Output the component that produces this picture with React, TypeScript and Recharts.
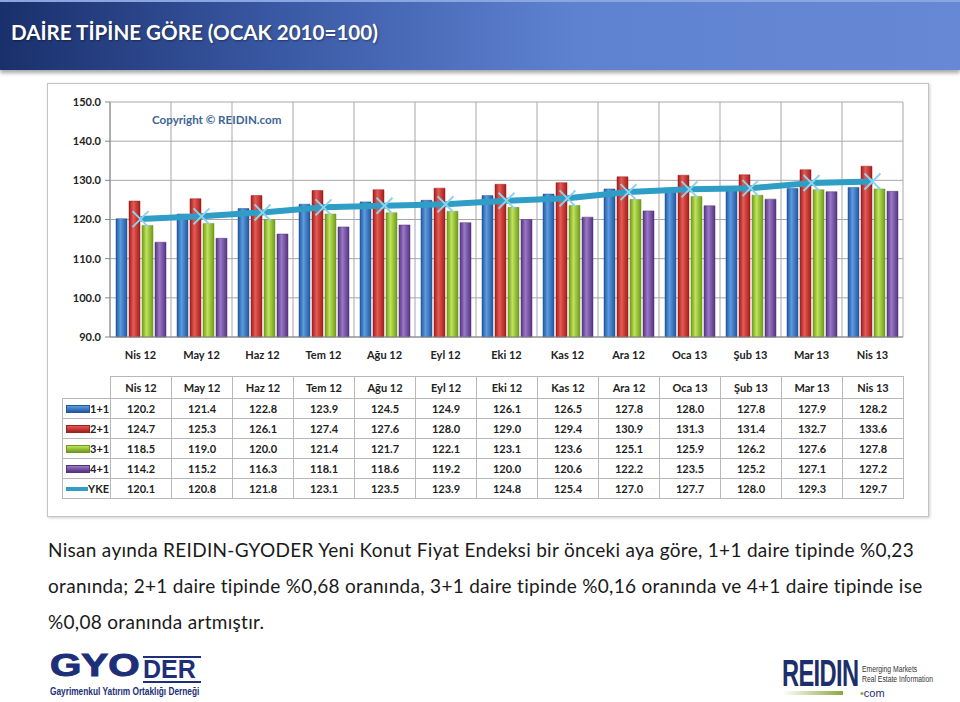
import React from 'react';
import { Bar, CartesianGrid, ComposedChart, Line, XAxis, YAxis } from 'recharts';

const months = ['Nis 12', 'May 12', 'Haz 12', 'Tem 12', 'Ağu 12', 'Eyl 12', 'Eki 12', 'Kas 12', 'Ara 12', 'Oca 13', 'Şub 13', 'Mar 13', 'Nis 13'];
const s11 = [120.2, 121.4, 122.8, 123.9, 124.5, 124.9, 126.1, 126.5, 127.8, 128.0, 127.8, 127.9, 128.2];
const s21 = [124.7, 125.3, 126.1, 127.4, 127.6, 128.0, 129.0, 129.4, 130.9, 131.3, 131.4, 132.7, 133.6];
const s31 = [118.5, 119.0, 120.0, 121.4, 121.7, 122.1, 123.1, 123.6, 125.1, 125.9, 126.2, 127.6, 127.8];
const s41 = [114.2, 115.2, 116.3, 118.1, 118.6, 119.2, 120.0, 120.6, 122.2, 123.5, 125.2, 127.1, 127.2];
const yke = [120.1, 120.8, 121.8, 123.1, 123.5, 123.9, 124.8, 125.4, 127.0, 127.7, 128.0, 129.3, 129.7];
const yTicks = [90, 100, 110, 120, 130, 140, 150];

const series = [
  { key: 's11', name: '1+1', values: s11, dark: '#23579e', light: '#5b9be0' },
  { key: 's21', name: '2+1', values: s21, dark: '#a01e1e', light: '#e65a52' },
  { key: 's31', name: '3+1', values: s31, dark: '#6f9a1c', light: '#bfe35a' },
  { key: 's41', name: '4+1', values: s41, dark: '#54347e', light: '#9a78c8' },
];
const lineColor = '#2e9ec6';

const data = months.map((m, i) => ({
  month: m,
  s11: s11[i],
  s21: s21[i],
  s31: s31[i],
  s41: s41[i],
  yke: yke[i],
}));

const font = 'Lato, "Open Sans", sans-serif';

function XDot(props: any) {
  const { cx, cy } = props;
  if (cx == null || cy == null) return null;
  const r = 8;
  return (
    <g stroke="#8fd2ea" strokeWidth={2}>
      <line x1={cx - r} y1={cy - r} x2={cx + r} y2={cy + r} />
      <line x1={cx - r} y1={cy + r} x2={cx + r} y2={cy - r} />
    </g>
  );
}

function DataTable() {
  const cell: React.CSSProperties = {
    border: '1px solid #b8b8b8',
    textAlign: 'center',
    padding: 0,
    fontSize: 11,
    fontWeight: 700,
    color: '#222',
    height: 19,
  };
  const rows = [
    ...series.map((s) => ({ name: s.name, values: s.values, swatch: s.light, edge: s.dark, line: false })),
    { name: 'YKE', values: yke, swatch: lineColor, edge: lineColor, line: true },
  ];
  return (
    <table
      style={{
        position: 'absolute',
        left: 62,
        top: 376,
        borderCollapse: 'collapse',
        tableLayout: 'fixed',
        width: 48 + 793,
        fontFamily: font,
      }}
    >
      <colgroup>
        <col style={{ width: 48 }} />
        {months.map((m) => (
          <col key={m} style={{ width: 61 }} />
        ))}
      </colgroup>
      <tbody>
        <tr>
          <td style={{ ...cell, border: 'none', borderBottom: '1px solid #b8b8b8', height: 21 }} />
          {months.map((m) => (
            <td key={m} style={{ ...cell, height: 21 }}>
              {m}
            </td>
          ))}
        </tr>
        {rows.map((r) => (
          <tr key={r.name}>
            <td style={{ ...cell, textAlign: 'left', paddingLeft: 3 }}>
              <span
                style={{
                  display: 'inline-block',
                  width: 22,
                  height: r.line ? 4 : 6,
                  verticalAlign: 'middle',
                  marginTop: -2,
                  background: r.line ? r.swatch : `linear-gradient(${r.swatch}, ${r.edge})`,
                  border: r.line ? 'none' : `1px solid ${r.edge}`,
                }}
              />
              {r.name}
            </td>
            {r.values.map((v, i) => (
              <td key={i} style={cell}>
                {v.toFixed(1)}
              </td>
            ))}
          </tr>
        ))}
      </tbody>
    </table>
  );
}

export default function App() {
  return (
    <div
      style={{
        position: 'absolute',
        left: 0,
        top: 0,
        width: 960,
        height: 702,
        overflow: 'hidden',
        background: '#fff',
        fontFamily: font,
      }}
    >
      {/* title bar */}
      <div
        style={{
          position: 'absolute',
          left: 0,
          top: 0,
          width: 960,
          height: 68,
          background: 'linear-gradient(90deg, #1a306c 0%, #3b5aa6 30%, #5f82d0 60%, #6788d4 100%)',
          borderTop: '2px solid #8aa6e0',
          boxShadow: '0 3px 4px rgba(0,0,0,0.35)',
        }}
      >
        <div
          style={{
            position: 'absolute',
            left: 11,
            top: 18,
            color: '#fff',
            fontSize: 20.6,
            fontWeight: 700,
            fontFamily: font,
            textShadow: '1px 1px 2px rgba(0,0,0,0.4)',
          }}
        >
          DAİRE TİPİNE GÖRE (OCAK 2010=100)
        </div>
      </div>

      {/* chart frame */}
      <div
        style={{
          position: 'absolute',
          left: 47,
          top: 83,
          width: 880,
          height: 432,
          border: '1px solid #c4c4c4',
          boxShadow: '1px 1px 3px rgba(0,0,0,0.2)',
          background: '#fff',
        }}
      />

      <div style={{ position: 'absolute', left: 0, top: 0 }}>
        <ComposedChart
          width={960}
          height={380}
          data={data}
          margin={{ top: 102, right: 57, bottom: 13, left: 60 }}
          barSize={11}
          barGap={2}
        >
          <defs>
            {series.map((s) => (
              <linearGradient key={s.key} id={`g-${s.key}`} x1="0" y1="0" x2="1" y2="0">
                <stop offset="0%" stopColor={s.dark} />
                <stop offset="40%" stopColor={s.light} />
                <stop offset="100%" stopColor={s.dark} />
              </linearGradient>
            ))}
          </defs>
          <CartesianGrid
            stroke="#a8a8a8"
            strokeWidth={1}
            verticalCoordinatesGenerator={(props: any) => {
              const off = props.offset;
              return months.map((_, i) => off.left + (i * off.width) / months.length).concat(off.left + off.width);
            }}
          />
          <XAxis
            dataKey="month"
            tickLine={false}
            tickSize={6}
            tickMargin={8}
            axisLine={{ stroke: '#888' }}
            height={30}
            tick={{ fontSize: 11, fontWeight: 700, fill: '#222', fontFamily: font }}
            interval={0}
          />
          <YAxis
            domain={[90, 150]}
            ticks={yTicks}
            width={50}
            tickSize={5}
            tickMargin={4}
            axisLine={{ stroke: '#888' }}
            tickLine={{ stroke: '#888' }}
            tickFormatter={(v: number) => v.toFixed(1)}
            tick={{ fontSize: 11, fontWeight: 700, fill: '#222', fontFamily: font }}
          />
          {series.map((s) => (
            <Bar key={s.key} dataKey={s.key} name={s.name} fill={`url(#g-${s.key})`} stroke={s.dark} strokeWidth={0.5} isAnimationActive={false} />
          ))}
          <Line
            dataKey="yke"
            name="YKE"
            stroke={lineColor}
            strokeWidth={6}
            dot={<XDot />}
            activeDot={false}
            isAnimationActive={false}
          />
        </ComposedChart>
      </div>

      <div
        style={{
          position: 'absolute',
          left: 152,
          top: 113,
          fontSize: 11.6,
          fontWeight: 700,
          color: '#3d6595',
          fontFamily: font,
        }}
      >
        Copyright © REIDIN.com
      </div>

      <DataTable />

      {/* paragraph */}
      <div
        style={{
          position: 'absolute',
          left: 48,
          top: 532,
          fontSize: 19,
          letterSpacing: 0.3,
          lineHeight: '36px',
          color: '#1a1a1a',
          fontFamily: font,
          fontVariantLigatures: 'none',
          whiteSpace: 'nowrap',
        }}
      >
        <div>Nisan ayında REIDIN-GYODER Yeni Konut Fiyat Endeksi bir önceki aya göre, 1+1 daire tipinde %0,23</div>
        <div>oranında; 2+1 daire tipinde %0,68 oranında, 3+1 daire tipinde %0,16 oranında ve 4+1 daire tipinde ise</div>
        <div>%0,08 oranında artmıştır.</div>
      </div>

      {/* GYODER logo */}
      <div style={{ position: 'absolute', left: 0, top: 0, color: '#1c2f78', fontFamily: '"Liberation Sans", Arial, sans-serif' }}>
        <div
          style={{
            position: 'absolute',
            left: 50,
            top: 651,
            fontSize: 31,
            fontWeight: 700,
            lineHeight: '29px',
            transform: 'scaleX(1.3)',
            transformOrigin: 'left',
            whiteSpace: 'nowrap',
            WebkitTextStroke: '1px #1c2f78',
          }}
        >
          GYO
        </div>
        <div
          style={{
            position: 'absolute',
            left: 143,
            top: 656,
            width: 58,
            fontSize: 25,
            fontWeight: 700,
            lineHeight: '23px',
            borderTop: '2px solid #1c2f78',
            borderBottom: '2px solid #1c2f78',
            whiteSpace: 'nowrap',
          }}
        >
          DER
        </div>
        <div
          style={{
            position: 'absolute',
            left: 50,
            top: 686,
            fontSize: 10,
            lineHeight: '11px',
            fontWeight: 700,
            whiteSpace: 'nowrap',
            transform: 'scaleX(0.83)',
            transformOrigin: 'left',
          }}
        >
          Gayrimenkul Yatırım Ortaklığı Derneği
        </div>
      </div>

      {/* REIDIN logo */}
      <div style={{ position: 'absolute', left: 0, top: 0, color: '#1c2f6c', fontFamily: '"Liberation Sans", sans-serif' }}>
        <div
          style={{
            position: 'absolute',
            left: 782,
            top: 660,
            fontSize: 37,
            fontWeight: 700,
            lineHeight: '28px',
            transform: 'scaleX(0.64)',
            transformOrigin: 'left',
            whiteSpace: 'nowrap',
            letterSpacing: -1,
          }}
        >
          REIDIN
        </div>
        <div style={{ position: 'absolute', left: 783, top: 691, width: 60, height: 4, background: 'linear-gradient(90deg, #ffffff, #8aa83a)' }} />
        <div style={{ position: 'absolute', left: 860, top: 687, fontSize: 11, lineHeight: '12px' }}>
          <span style={{ color: '#8aa83a' }}>•</span>com
        </div>
        <div
          style={{
            position: 'absolute',
            left: 862,
            top: 664,
            fontSize: 8.5,
            lineHeight: '10px',
            color: '#333',
            whiteSpace: 'nowrap',
            transform: 'scaleX(0.8)',
            transformOrigin: 'left',
          }}
        >
          Emerging Markets
          <br />
          Real Estate Information
        </div>
      </div>
    </div>
  );
}
